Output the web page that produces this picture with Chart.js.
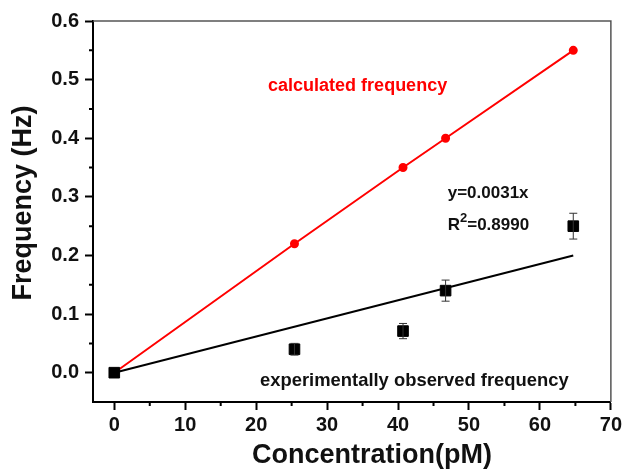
<!DOCTYPE html>
<html>
<head>
<meta charset="utf-8">
<script src="https://cdn.jsdelivr.net/npm/chart.js@4"></script>
<style>
  html, body { margin: 0; padding: 0; background: #fff; }
  #wrap { width: 625px; height: 470px; }
</style>
</head>
<body>
<div id="wrap"><canvas id="freqChart" width="625" height="470"></canvas></div>
<script>
// data
var concentration = [0, 25.4, 40.7, 46.7, 64.7];
var calcFreq = [0, 0.22, 0.35, 0.40, 0.55];
var obsFreq = [0, 0.040, 0.071, 0.140, 0.250];
var obsErr = [0, 0.010, 0.013, 0.018, 0.022];
var fitX = [0, 64.7];
var fitY = [0, 0.20];
var xMinorTicks = [5, 15, 25, 35, 45, 55, 65];
var yMinorTicks = [0.05, 0.15, 0.25, 0.35, 0.45, 0.55];

var FONT = "'Liberation Sans', Arial, sans-serif";

function toPoints(xs, ys) {
    var pts = [];
    for (var i = 0; i < xs.length; i++) {
        pts.push({ x: xs[i], y: ys[i] });
    }
    return pts;
}

// frame, minor ticks, error bars, labels
var extrasPlugin = {
    id: 'extras',
    beforeDatasetsDraw: function (chart) {
        var ctx = chart.ctx;
        var a = chart.chartArea;
        var xs = chart.scales.x, ys = chart.scales.y;
        ctx.save();
        // top / right frame
        ctx.strokeStyle = '#555';
        ctx.lineWidth = 1.5;
        ctx.beginPath();
        ctx.moveTo(a.left, a.top);
        ctx.lineTo(a.right, a.top);
        ctx.lineTo(a.right, a.bottom);
        ctx.stroke();
        // minor ticks
        ctx.strokeStyle = '#000';
        ctx.lineWidth = 2;
        ctx.beginPath();
        xMinorTicks.forEach(function (v) {
            var px = xs.getPixelForValue(v);
            ctx.moveTo(px, a.bottom);
            ctx.lineTo(px, a.bottom + 4);
        });
        yMinorTicks.forEach(function (v) {
            var py = ys.getPixelForValue(v);
            ctx.moveTo(a.left, py);
            ctx.lineTo(a.left - 4, py);
        });
        ctx.stroke();
        ctx.restore();
    },
    afterDatasetsDraw: function (chart) {
        var ctx = chart.ctx;
        var xs = chart.scales.x, ys = chart.scales.y;
        ctx.save();
        // error bars on observed points
        ctx.strokeStyle = '#333';
        ctx.lineWidth = 1;
        for (var i = 0; i < concentration.length; i++) {
            if (!obsErr[i]) continue;
            var px = xs.getPixelForValue(concentration[i]);
            var top = ys.getPixelForValue(obsFreq[i] + obsErr[i]);
            var bot = ys.getPixelForValue(obsFreq[i] - obsErr[i]);
            ctx.beginPath();
            ctx.moveTo(px, top); ctx.lineTo(px, bot);
            ctx.moveTo(px - 4, top); ctx.lineTo(px + 4, top);
            ctx.moveTo(px - 4, bot); ctx.lineTo(px + 4, bot);
            ctx.stroke();
        }
        // text labels
        ctx.textBaseline = 'middle';
        ctx.fillStyle = '#ff0000';
        ctx.font = 'bold 18px ' + FONT;
        ctx.textAlign = 'center';
        ctx.fillText('calculated frequency', xs.getPixelForValue(34.3), ys.getPixelForValue(0.489));
        ctx.fillStyle = '#111';
        ctx.font = 'bold 18.4px ' + FONT;
        ctx.fillText('experimentally observed frequency', xs.getPixelForValue(42.3), ys.getPixelForValue(-0.014));
        ctx.font = 'bold 17px ' + FONT;
        ctx.textAlign = 'left';
        var lx = xs.getPixelForValue(47.0);
        ctx.fillText('y=0.0031x', lx, ys.getPixelForValue(0.306));
        var ry = ys.getPixelForValue(0.251);
        ctx.fillText('R', lx, ry);
        var w = ctx.measureText('R').width;
        ctx.font = 'bold 13px ' + FONT;
        ctx.fillText('2', lx + w, ry - 7);
        var w2 = ctx.measureText('2').width;
        ctx.font = 'bold 17px ' + FONT;
        ctx.fillText('=0.8990', lx + w + w2, ry);
        ctx.restore();
    },
    afterDraw: function (chart) {
        var ctx = chart.ctx;
        ctx.save();
        ctx.fillStyle = '#111';
        ctx.font = 'bold 27px ' + FONT;
        ctx.textAlign = 'center';
        ctx.textBaseline = 'middle';
        ctx.fillText('Concentration(pM)', 372, 456);
        ctx.translate(24, 203);
        ctx.rotate(-Math.PI / 2);
        ctx.fillText('Frequency (Hz)', 0, 0);
        ctx.restore();
    }
};

var ctx = document.getElementById('freqChart');
var freqChart = new Chart(ctx, {
    type: 'scatter',
    data: {
        datasets: [
            {
                label: 'fit',
                data: toPoints(fitX, fitY),
                showLine: true,
                borderColor: '#000',
                borderWidth: 2,
                pointRadius: 0
            },
            {
                label: 'experimentally observed frequency',
                data: toPoints(concentration, obsFreq),
                pointStyle: 'rect',
                pointRadius: 7.5,
                backgroundColor: '#000',
                borderColor: '#000',
                borderWidth: 1
            },
            {
                label: 'calculated frequency',
                data: toPoints(concentration, calcFreq),
                showLine: true,
                borderColor: '#ff0000',
                borderWidth: 2,
                pointRadius: 3.5,
                backgroundColor: '#ff0000',
                pointBorderColor: '#ff0000'
            }
        ]
    },
    options: {
        responsive: false,
        animation: false,
        layout: { padding: { left: 41, right: 13, top: 21, bottom: 0 } },
        plugins: {
            legend: { display: false },
            tooltip: { enabled: false }
        },
        scales: {
            x: {
                type: 'linear',
                min: -3,
                max: 70,
                afterFit: function (scale) { scale.height = 68; },
                border: { display: true, color: '#000', width: 2 },
                grid: { drawOnChartArea: false, drawTicks: true, tickLength: 8, tickColor: '#000', tickWidth: 2 },
                ticks: {
                    stepSize: 10,
                    includeBounds: false,
                    color: '#111',
                    padding: 3,
                    maxRotation: 0,
                    font: { family: FONT, size: 20, weight: 'bold' }
                }
            },
            y: {
                min: -0.05,
                max: 0.6,
                afterFit: function (scale) { scale.width = 52; },
                border: { display: true, color: '#000', width: 2 },
                grid: { drawOnChartArea: false, drawTicks: true, tickLength: 8, tickColor: '#000', tickWidth: 2 },
                ticks: {
                    stepSize: 0.1,
                    includeBounds: false,
                    color: '#111',
                    padding: 6,
                    font: { family: FONT, size: 20, weight: 'bold' },
                    callback: function (v) { return v.toFixed(1); }
                }
            }
        }
    },
    plugins: [extrasPlugin]
});
</script>
</body>
</html>
